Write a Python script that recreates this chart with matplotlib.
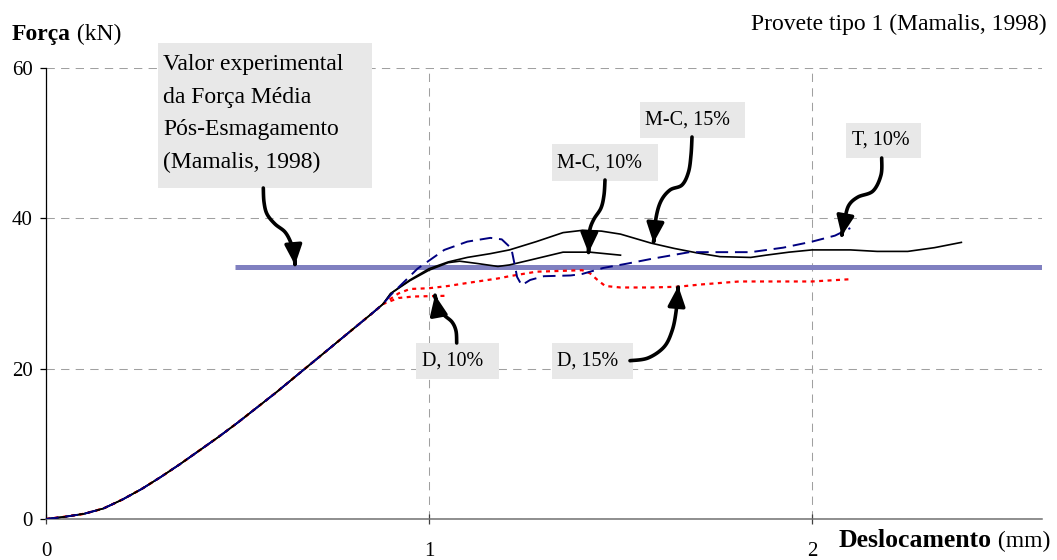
import numpy as np
import matplotlib
matplotlib.use("Agg")
import matplotlib.pyplot as plt
from matplotlib.transforms import Affine2D
from matplotlib.patches import Rectangle, FancyArrowPatch
from matplotlib.path import Path

plt.rcParams['font.family'] = ['Liberation Serif', 'DejaVu Serif']

# ---------------------------------------------------------------- data
# Loading branch shared by every numerical model (mm, kN)
x_rise = [0.00, 0.05, 0.10, 0.15, 0.20, 0.25, 0.30, 0.35, 0.40, 0.45, 0.50,
          0.55, 0.60, 0.65, 0.70, 0.75, 0.80, 0.85, 0.88]
f_rise = [0.0, 0.3, 0.7, 1.4, 2.6, 4.0, 5.6, 7.3, 9.1, 10.9, 12.8,
          14.8, 16.8, 18.9, 21.0, 23.1, 25.2, 27.3, 28.6]

# Mohr-Coulomb, 15 %
x_mc15 = [0.90, 0.95, 1.00, 1.05, 1.10, 1.16, 1.21, 1.28, 1.35, 1.40, 1.45,
          1.50, 1.58, 1.64, 1.70, 1.76, 1.84, 1.88, 1.94, 2.00, 2.10, 2.17,
          2.25, 2.32, 2.39]
f_mc15 = [30.0, 31.8, 33.3, 34.2, 34.8, 35.3, 35.8, 36.9, 38.1, 38.4, 38.3,
          37.9, 36.7, 36.0, 35.4, 34.9, 34.8, 35.1, 35.5, 35.8, 35.8, 35.6,
          35.6, 36.1, 36.8]

# Mohr-Coulomb, 10 %
x_mc10 = [0.90, 0.95, 1.00, 1.05, 1.08, 1.125, 1.18, 1.21, 1.26, 1.35, 1.42, 1.50]
f_mc10 = [30.0, 31.7, 33.1, 34.1, 34.3, 34.0, 33.6, 33.8, 34.4, 35.5, 35.5, 35.1]

# Tresca, 10 %
x_t10 = [0.90, 0.97, 1.04, 1.10, 1.16, 1.19, 1.215, 1.225, 1.23, 1.242, 1.264,
         1.30, 1.37, 1.40, 1.455, 1.52, 1.58, 1.68, 1.84, 1.925, 2.00, 2.06, 2.10]
f_t10 = [29.8, 33.3, 35.8, 36.9, 37.4, 37.2, 36.0, 33.5, 32.2, 31.1, 31.8,
         32.3, 32.4, 32.6, 33.4, 34.0, 34.6, 35.5, 35.5, 36.1, 36.9, 37.7, 38.7]

# Drucker, 10 %
x_d10 = [0.92, 0.96, 1.05]
f_d10 = [29.4, 29.6, 29.7]

# Drucker, 15 %
x_d15 = [0.92, 0.95, 1.00, 1.05, 1.10, 1.18, 1.21, 1.28, 1.40, 1.42, 1.44,
         1.46, 1.50, 1.58, 1.65, 1.71, 1.81, 2.00, 2.10]
f_d15 = [30.0, 30.6, 30.7, 31.0, 31.4, 32.0, 32.3, 32.9, 33.1, 32.7, 31.8,
         31.0, 30.8, 30.8, 30.9, 31.2, 31.6, 31.6, 31.9]

# Experimental mean post-crushing force (Mamalis, 1998)
f_exp = 33.5
x_exp = [0.493, 2.6]

x_ticks = [0, 1, 2]
y_ticks = [0, 20, 40, 60]

# ---------------------------------------------------------------- figure
W, H = 1057, 560
fig = plt.figure(figsize=(W / 100, H / 100), dpi=100)
ax = fig.add_axes([46 / W, (H - 519) / H, (1041.8 - 46) / W, (519 - 68) / H])
pix = Affine2D().scale(1, -1).translate(0, H)   # top-left pixel coordinates

ax.set_xlim(0, 2.6)
ax.set_ylim(0, 60)
ax.set_xticks(x_ticks)
ax.set_yticks(y_ticks)
ax.set_axisbelow(True)
ax.grid(True, color='#a0a0a0', lw=0.75, ls=(0, (8, 6)))

for side in ('top', 'right'):
    ax.spines[side].set_visible(False)
ax.spines['left'].set_color('black')
ax.spines['left'].set_linewidth(0.9)
ax.spines['bottom'].set_color('#707070')
ax.spines['bottom'].set_linewidth(1.1)

ax.tick_params(axis='y', direction='out', length=4.5, width=0.9, colors='black',
               labelsize=15, pad=5)
ax.tick_params(axis='x', direction='inout', length=7, width=0.9, color='#404040',
               labelcolor='black', labelsize=15, pad=13)

# experimental reference line
ax.hlines(f_exp, x_exp[0], x_exp[1], color='#8080c0', lw=3.6, zorder=1.5)


def branch(xs, fs):
    return np.r_[x_rise, xs], np.r_[f_rise, fs]


xx, ff = branch(x_d15, f_d15)
ax.plot(xx, ff, color='#ff0000', lw=1.6, ls=(0, (1.8, 2.0)), zorder=2)
xx, ff = branch(x_d10, f_d10)
ax.plot(xx, ff, color='#ff0000', lw=1.6, ls=(0, (1.8, 2.0)), zorder=2)
xx, ff = branch(x_mc10, f_mc10)
ax.plot(xx, ff, color='black', lw=1.2, zorder=3)
xx, ff = branch(x_mc15, f_mc15)
ax.plot(xx, ff, color='black', lw=1.2, zorder=3)
xx, ff = branch(x_t10, f_t10)
ax.plot(xx, ff, color='#000080', lw=1.4, ls=(0, (6.5, 3.5)), zorder=4)


# ---------------------------------------------------------------- labels
def ptext(x, y, s, **kw):
    kw.setdefault('va', 'baseline')
    return fig.text(x, y, s, transform=pix, **kw)


def box(x0, y0, x1, y1):
    fig.add_artist(Rectangle((x0, y0), x1 - x0, y1 - y0, transform=pix,
                             facecolor='#e8e8e8', edgecolor='none', zorder=5))


def smooth(pts, n=14):
    P = np.asarray(pts, float)
    P = np.vstack([P[0], P, P[-1]])
    out = []
    for i in range(1, len(P) - 2):
        p0, p1, p2, p3 = P[i - 1], P[i], P[i + 1], P[i + 2]
        for t in np.linspace(0, 1, n, endpoint=False):
            out.append(0.5 * (2 * p1 + (-p0 + p2) * t
                              + (2 * p0 - 5 * p1 + 4 * p2 - p3) * t * t
                              + (-p0 + 3 * p1 - 3 * p2 + p3) * t ** 3))
    out.append(P[-2])
    return np.array(out)


def arrow(pts):
    fig.add_artist(FancyArrowPatch(path=Path(smooth(pts)),
                                   arrowstyle='-|>,head_length=0.6,head_width=0.26',
                                   mutation_scale=20, lw=2.6, color='black',
                                   transform=pix, zorder=6,
                                   shrinkA=0, shrinkB=0))


# axis titles
t1 = ptext(12, 40, 'Força', fontsize=17, fontweight='bold')
ax.annotate(' (kN)', xy=(1, 0), xycoords=t1, va='bottom', ha='left', fontsize=17)
t2 = ptext(1050, 547, ' (mm)', fontsize=17, ha='right')
ax.annotate('Deslocamento', xy=(0, 0), xycoords=t2, va='bottom', ha='right',
            fontsize=18.5, fontweight='bold')
ptext(1047, 30, 'Provete tipo 1 (Mamalis, 1998)', fontsize=17, ha='right')

# experimental value label
box(158, 43, 372, 188)
for i, line in enumerate(['Valor experimental', 'da Força Média',
                          'Pós-Esmagamento', '(Mamalis, 1998)']):
    ptext(163, 70 + 32.7 * i, line, fontsize=17, zorder=6)
arrow([(263.3, 188), (264, 202), (267, 214), (275, 224), (285, 232),
       (291, 243), (294, 254), (295, 265)])

# model labels
labels = [
    ('M-C, 10%', (551.7, 144.3, 658.3, 180.7), (556.7, 167.3),
     [(605, 180), (604, 195), (601, 208), (594, 219), (590, 229), (589, 241), (588.5, 253)]),
    ('M-C, 15%', (640, 101.7, 745, 137.7), (645, 124.3),
     [(692, 137), (691, 155), (688.5, 172), (682, 185), (670, 190), (661, 201),
      (656, 218), (653.5, 243)]),
    ('T, 10%', (846, 122.7, 920.7, 158.3), (851.7, 144.3),
     [(881.7, 158), (881, 175), (873, 191), (858, 197), (849, 205), (845, 218),
      (841.7, 236)]),
    ('D, 10%', (416, 342.7, 499.3, 379.3), (421.7, 366),
     [(456.7, 343), (456, 331), (452, 322), (444, 315), (439, 308), (436, 300),
      (435, 295)]),
    ('D, 15%', (551.7, 342.7, 633.3, 379.3), (556.7, 366),
     [(630, 360.7), (648, 358), (664, 347), (672, 331), (676, 312), (678.3, 286)]),
]
for txt, (bx0, by0, bx1, by1), (tx, ty), path in labels:
    box(bx0, by0, bx1, by1)
    ptext(tx, ty, txt, fontsize=14.5, zorder=6)
    arrow(path)

fig.savefig('out.png', dpi=100)
